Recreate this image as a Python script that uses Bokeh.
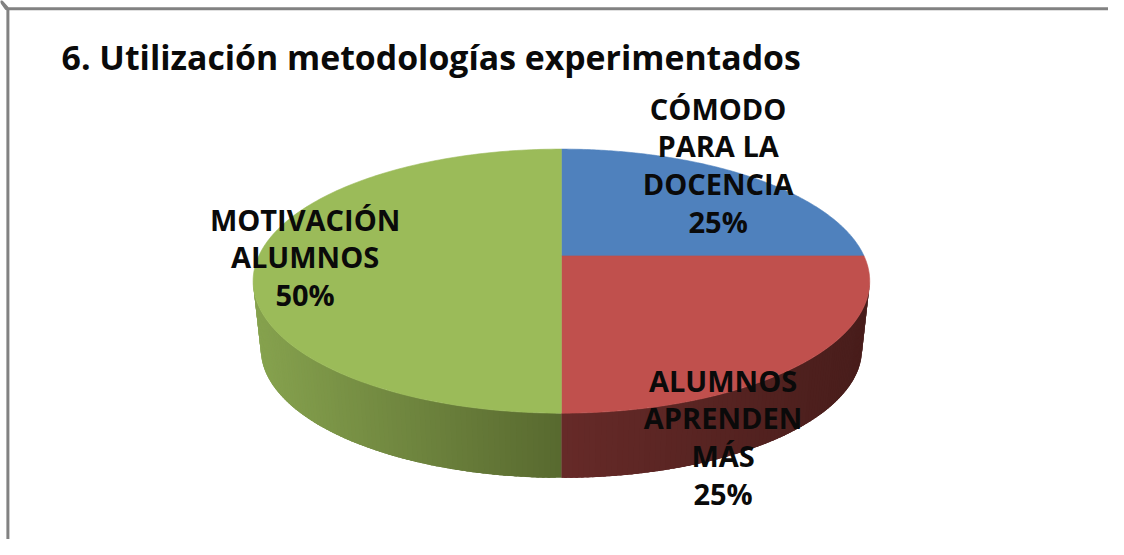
import math
from bokeh.plotting import figure
from bokeh.models import Range1d
from bokeh.core.properties import value
from bokeh.embed import file_html
from bokeh.resources import INLINE

# data
title = "6. Utilización metodologías experimentados"
categories = ["CÓMODO\nPARA LA\nDOCENCIA", "ALUMNOS\nAPRENDEN\nMÁS", "MOTIVACIÓN\nALUMNOS"]
values = [25, 25, 50]
colors = ["#4f81bd", "#c0504d", "#9bbb59"]
wall_light = ["#3a5f8c", "#662a28", "#86a24e"]
wall_dark = ["#2c4a6e", "#481d1b", "#58692f"]

# layout (reference pixels; the figure shows the whole 1124x555 reference)
W, H = 1108, 539
REF_W, REF_H = 1124, 555
CX, CY = 569, 263
A, B, K = 307, 131, 0.191
DEPTH, SHRINK = 70, 0.975
FONT = value("Open Sans")
label_anchor = [(728, 111), (733, 391), (309, 225)]
LINE = 38.8
LABEL_PX = "29px"
TITLE_PX = "33.8px"


def rim(t, bottom=False):
    d = 1 + K * math.cos(t)
    x = A * math.sin(t) / d
    y = -B * math.cos(t) / d
    if bottom:
        return CX + SHRINK * x, CY + 26 + SHRINK * (y - 26) + DEPTH
    return CX + x, CY + y


p = figure(width=W, height=H, output_backend="svg", toolbar_location=None,
           x_range=Range1d(0, REF_W), y_range=Range1d(REF_H, 0),
           min_border=0, outline_line_color=None, background_fill_color="white",
           border_fill_color="white")
p.xaxis.visible = False
p.yaxis.visible = False
p.grid.visible = False

# chart frame (only top and left are visible in the crop)
p.line([7.5, 7.5, None, 6, REF_W], [REF_H, 8.5, None, 8.5, 8.5], line_color="#828282", line_width=3)

total = sum(values)
cum = 0
slices = []
for v in values:
    a0 = 2 * math.pi * cum / total
    cum += v
    slices.append((a0, 2 * math.pi * cum / total))

# side wall: narrow strips shaded across each slice's front part
FRONT0 = math.acos(-K)
FRONT1 = 2 * math.pi - FRONT0
xs, ys, fc = [], [], []
for (a0, a1), c0, c1 in zip(slices, wall_light, wall_dark):
    lo, hi = max(a0, FRONT0), min(a1, FRONT1)
    if hi <= lo:
        continue
    n = 90
    rgb0 = [int(c0[i:i + 2], 16) for i in (1, 3, 5)]
    rgb1 = [int(c1[i:i + 2], 16) for i in (1, 3, 5)]
    step = (hi - lo) / n
    for i in range(n):
        t0 = lo + step * i
        t1 = min(hi, t0 + step * 2.5)  # overlap so that no seams show
        tm = t0 + step / 2
        f = abs(rim(tm)[0] - CX) / 312
        f = f if a0 < math.pi * 0.75 else 1 - f
        col = "#%02x%02x%02x" % tuple(round(rgb0[j] + (rgb1[j] - rgb0[j]) * f) for j in range(3))
        p0, p1, q1, q0 = rim(t0), rim(t1), rim(t1, True), rim(t0, True)
        xs.append([p0[0], p1[0], q1[0], q0[0]])
        ys.append([p0[1], p1[1], q1[1], q0[1]])
        fc.append(col)
# green is walked from the centre line outwards and red likewise: draw later strips over earlier ones
p.patches(xs, ys, fill_color=fc, line_color=None)

# top face
for (a0, a1), col in zip(slices, colors):
    pts = [rim(a0 + (a1 - a0) * i / 160) for i in range(161)]
    p.patch([CX] + [q[0] for q in pts], [CY] + [q[1] for q in pts],
            fill_color=col, line_color=col, line_width=0.6)

# texts
p.text([62], [58], text=[title], text_font=FONT, text_font_size=TITLE_PX, text_font_style="bold",
       text_color="#0a0a0a", text_align="left", text_baseline="middle")
for cat, v, (ax, ay) in zip(categories, values, label_anchor):
    rows = cat.split("\n") + [f"{v}%"]
    p.text([ax] * len(rows), [ay + LINE * i for i in range(len(rows))], text=rows, text_font=FONT,
           text_font_size=LABEL_PX, text_font_style="bold", text_color="#0a0a0a",
           text_align="center", text_baseline="middle")

open("out.html", "w").write(file_html(p, INLINE))
